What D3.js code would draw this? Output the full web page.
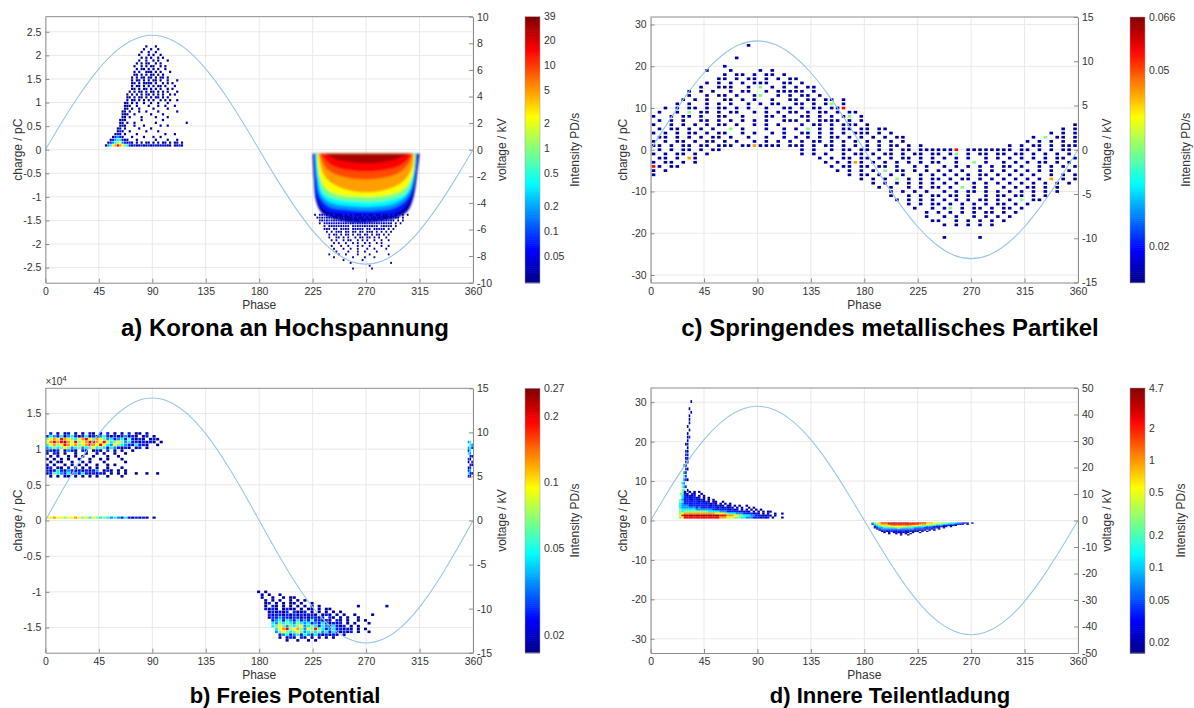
<!DOCTYPE html>
<html>
<head>
<meta charset="utf-8">
<script src="https://cdn.jsdelivr.net/npm/d3@7/dist/d3.min.js"></script>
<style>
body{margin:0;background:#fff;}
svg{display:block;font-family:"Liberation Sans",Arial,sans-serif;}
</style>
</head>
<body>
<svg id="chart" width="1194" height="708"></svg>
<script>
// ---- values ----
var phaseTicks=[0,45,90,135,180,225,270,315,360];
var sinePhase=[0,15,30,45,60,75,90,105,120,135,150,165,180,195,210,225,240,255,270,285,300,315,330,345,360];
var voltA=[0,2.23,4.3,6.08,7.45,8.31,8.6,8.31,7.45,6.08,4.3,2.23,0,-2.23,-4.3,-6.08,-7.45,-8.31,-8.6,-8.31,-7.45,-6.08,-4.3,-2.23,0];
var voltC=[0,3.18,6.15,8.7,10.65,11.88,12.3,11.88,10.65,8.7,6.15,3.18,0,-3.18,-6.15,-8.7,-10.65,-11.88,-12.3,-11.88,-10.65,-8.7,-6.15,-3.18,0];
var voltB=[0,3.6,6.95,9.83,12.04,13.43,13.9,13.43,12.04,9.83,6.95,3.6,0,-3.6,-6.95,-9.83,-12.04,-13.43,-13.9,-13.43,-12.04,-9.83,-6.95,-3.6,0];
var voltD=[0,11.16,21.55,30.48,37.33,41.63,43.1,41.63,37.33,30.48,21.55,11.16,0,-11.16,-21.55,-30.48,-37.33,-41.63,-43.1,-41.63,-37.33,-30.48,-21.55,-11.16,0];

var qDomA=[-2.82,2.82], qTicksA=[-2.5,-2,-1.5,-1,-0.5,0,0.5,1,1.5,2,2.5];
var vDomA=[-10,10], vTicksA=[-10,-8,-6,-4,-2,0,2,4,6,8,10];
var cbDomA=[0.0237,39], cbTicksA=[0.05,0.1,0.2,0.5,1,2,5,10,20,39];

var qDomC=[-31.8,31.8], qTicksC=[-30,-20,-10,0,10,20,30];
var vDomC=[-15,15], vTicksC=[-15,-10,-5,0,5,10,15];
var cbDomC=[0.0166,0.066], cbTicksC=[0.02,0.05,0.066];

// panel b charge in units of 1e4 pC
var qDomB=[-1.853,1.853], qTicksB=[-1.5,-1,-0.5,0,0.5,1,1.5];
var vDomB=[-15,15], vTicksB=[-15,-10,-5,0,5,10,15];
var cbDomB=[0.0167,0.27], cbTicksB=[0.02,0.05,0.1,0.2,0.27];

var qDomD=[-33.6,33.6], qTicksD=[-30,-20,-10,0,10,20,30];
var vDomD=[-50,50], vTicksD=[-50,-40,-30,-20,-10,0,10,20,30,40,50];
var cbDomD=[0.016,4.7], cbTicksD=[0.02,0.05,0.1,0.2,0.5,1,2,4.7];

// intensity classes: position on the colour bar (0 bottom .. 1 top)
var levelPos={o:0.03,b:0.15,l:0.27,c:0.37,g:0.5,y:0.62,n:0.72,e:0.8,r:0.87,d:0.96};

// PRPD histograms: phi0 / dphi (deg), q0 = top edge of first row, dq = row height
var gridAPos={phi0:48,dphi:2,q0:2.22,dq:0.06,rows:[
"..........|........o.|..o.......|.......",
"..........|.......o..|o..o......|.......",
"..........|......o..o|..o.......|.......",
"..........|.....o...o|.o..o.....|.......",
"..........|......o.o.|o..o.o....|.......",
"..........|.....o..o.|.o.o...o..|.......",
"..........|....o.o.oo|..o.o.....|.......",
"..........|...o..o.o.|oo..o.o...|.......",
"..........|....o.oo.o|.o.o..o...|.......",
"..........|...o.o..oo|o.o.o...o.|.......",
"..........|...oo.o.o.|oo.o.o....|.......",
"..........|..o.o.oo.o|o.o.oo.o..|.......",
"..........|..o.oo.o.o|.oo.o..o..|.o.....",
"..........|..oo.o.ooo|o.o..o.o.o|.......",
"..........|..o.oo.o.o|.o.oo.o...|o......",
"..........|..oo.o.oo.|o.o.o..o.o|.......",
"..........|.o.o.oo.o.|oo.o.o.o..|.o.....",
"..........|o.o.o.o.oo|.o.o.o..o.|o......",
"..........|oo.o.oo.o.|o.oo.o.o..|.......",
"..........|o.oo.o.o.o|.o..o.o.o.|.o.....",
".........o|o.o.o..o..|o..o...o..|.......",
".........o|oo..o....o|...o..o...|o......",
".........o|o.o..o....|.o.....o..|.......",
"........oo|.o...o..o.|...o......|.o.....",
"........oo|o..o......|o....o....|.......",
"........oo|.o....o...|..o....o..|.......",
".......ooo|......o...|.....o....|.......",
".......oo.|o..o......|..o.......|.....o.",
".......ooo|...o...o..|....o..o..|.......",
"......oo.o|.....o....|o.........|.......",
"......obo.|.o......o.|...o......|.......",
".....obo.o|....o.....|......o...|o......",
"....oblbo.|..o....o..|.o..o.....|.......",
"...oblccbo|o...o.....|..o....o..|.o.....",
"..oblcgylb|obo.o.o.oo|.o.o.oo.o.|oo.o...",
".olcynrnyg|cbobooboob|ooboobooo.|oobo..."]};

// dense negative corona cloud: lower boundary of each intensity class
var bandsANeg=[
 {lv:"o",pts:[[225,-0.085],[226,-0.6],[228,-1.1],[233,-1.35],[245,-1.48],[262,-1.55],[280,-1.52],[295,-1.45],[305,-1.3],[310,-1.0],[313,-0.5],[315,-0.085]]},
 {lv:"b",pts:[[226,-0.085],[227,-0.6],[229,-1.05],[235,-1.28],[250,-1.38],[265,-1.42],[282,-1.4],[297,-1.32],[305,-1.15],[310,-0.8],[313,-0.085]]},
 {lv:"l",pts:[[227,-0.085],[228,-0.6],[231,-1.0],[238,-1.2],[255,-1.28],[270,-1.3],[288,-1.27],[300,-1.15],[307,-0.95],[311,-0.5],[312.5,-0.085]]},
 {lv:"c",pts:[[227.5,-0.085],[229,-0.6],[232,-0.95],[240,-1.12],[258,-1.2],[275,-1.21],[292,-1.15],[302,-1.02],[308,-0.8],[311,-0.4],[312,-0.085]]},
 {lv:"g",pts:[[228,-0.085],[230,-0.6],[234,-0.9],[243,-1.03],[262,-1.1],[280,-1.1],[295,-1.02],[304,-0.9],[309,-0.6],[311.5,-0.085]]},
 {lv:"y",pts:[[229,-0.085],[231,-0.55],[236,-0.82],[246,-0.95],[265,-1.0],[283,-0.98],[297,-0.9],[305,-0.75],[310,-0.45],[311,-0.085]]},
 {lv:"n",pts:[[230,-0.085],[233,-0.45],[238,-0.65],[248,-0.8],[265,-0.9],[283,-0.87],[296,-0.76],[304,-0.6],[309,-0.35],[310,-0.085]]},
 {lv:"e",pts:[[231,-0.085],[235,-0.35],[242,-0.5],[255,-0.6],[270,-0.63],[288,-0.58],[300,-0.45],[307,-0.25],[309,-0.085]]},
 {lv:"r",pts:[[232,-0.085],[237,-0.25],[245,-0.38],[260,-0.45],[275,-0.46],[292,-0.4],[302,-0.28],[307,-0.15],[308,-0.085]]},
 {lv:"d",pts:[[236,-0.085],[245,-0.2],[260,-0.27],[278,-0.28],[293,-0.22],[303,-0.12],[306,-0.085]]}
];
var gridANeg={phi0:226,dphi:2,q0:-1.35,dq:0.06,rows:[
"o.oobobobo|oobobobooo|bobooboobo|obobob.o.o..",
".obobooboo|bobooobobo|oboboobobo|oboboo.o....",
"..oobobooo|boboooboob|ooboboobob|oboo.o.o....",
"..o.oboobo|obooboobob|oobobooboo|boo.o.o.....",
"....o.oobo|boobo.obob|ooboobo.bo|obo.o.......",
"....ooo.oo|.oboo.ooob|o.oo.ooboo|.o.o........",
".....o.o.o|oo.oo.oo.o|o.ooo.o.o.|o.o.........",
"......o.oo|.o.oo.o.oo|.oo.o.oo.o|.o..........",
"......o..o|o.o.o..o.o|o.oo.o.o..|o...........",
".......o.o|..o.oo..o.|o.o..o..o.|.o..........",
"........o.|o..o..o.o.|.o.o..o.o.|............",
".......o..|.o..o...o.|o..o....o.|.o..........",
"........o.|..o..o..o.|..o..o....|o...........",
".........o|....o...o.|.o....o...|............",
"......o...|o..o....o.|...o......|.o..........",
"........o.|......o...|.o...o....|............",
"..........|..o.......|o.........|............",
"..........|.....o....|..........|..o.........",
"..........|..........|...o......|............",
"..........|......o...|....o.....|............"]};

var gridC={phi0:0,dphi:5,q0:26.5,dq:1,rows:[
"............|............|............|............|............|............",
"............|....o.......|............|............|............|............",
"............|............|............|............|............|............",
"............|............|............|............|............|............",
"............|..o.........|............|............|............|............",
"............|............|............|............|............|............",
"............|o...........|............|............|............|............",
".........o..|.o....o.o...|............|............|............|............",
"............|o.oo.o.oo.o.|............|............|............|............",
"...........o|o.o.oo.o.o.o|o...........|............|............|............",
".........o.o|.o.o.ooo..oo|.o..........|............|............|............",
"........o..o|oo..o.g.o.o.|o.oo........|............|............|............",
"......o.o.o.|.o.oo..o.ooo|oo.o........|............|............|............",
"......o..o.o|o.o..og..o.o|.oo.o.......|............|............|............",
".....o.o.o..|oo.o.o..o..o|o.oo.oo.o...|............|............|............",
"....o.o..o.o|.o..o.o.oo..|oo.o.og.o...|............|............|............",
"..o.o.oo.o.o|o.o.o..o..oo|.o.oo.oor...|............|............|............",
".o..o.g.oo.o|.oo..o.o.o.o|o.o.oo.o.oo.|............|............|............",
"o..o.oo.o..o|o..o...oo.o.|.oo.o.o.og.o|............|............|............",
".o.o.o..oo.o|.o.o.o.o..oo|o.o.oooo.o.o|............|............|............",
"o..o.o.o.o.o|o.o..o.o.o..|.o.oo.o.ooo.|o...........|............|...........o",
".o.oo.o.o.o.|.g.o...o..o.|o.g.o.o.oo.o|o.oo........|............|.........o.o",
"o.o.o.oo.o.o|o..o.o..o.o.|.oo.o.o.o.oo|o.o.o.......|............|.......o.o.o",
".oo.o.o.o.oo|.o..o..o..o.|o.o.o.oo.o.o|.o.o.oo.....|............|....o.g.oo.o",
"o.o.oo.o.oo.|o.o..o.o.o.o|.o.oo.o.o.o.|o.o.o.o.....|............|...o.o.o.o.o",
"oo.o.oo.oo.o|oo.oonoooo.o|oo.o.oo.o.o.|o.o.oo.o.o..|............|o.o.oo.o.ooo",
".o.o.oo.o.oo|............|.o.o..o.oo.o|o.o.o.oo.ooo|ooor.ooooooo|o.oo.o.o.oo.",
"o.o.oo.o.o..|............|.o.o.o..o.oo|.o.oo.o.oo.o|o.og.o.oo.oo|.oo.o.o.o.o.",
".oo.o.no....|............|....o.o.oo.o|o.o.o.oo.o.o|.o.o.o..o.o.|o.o.o.o.oo.o",
"o.oo.o.o....|............|.....o.o.ono|.o.o.o.o.o.o|o..o..g.o..o|.o.o.oo.o.o.",
"ro.oo.......|............|......o.oo.o|o.oo.o..o.o.|.o.o.o.o.o.o|o.o..o.o.o.o",
"o.o.........|............|.......o.o.o|.o.g.oo.o.o.|o.o.o..o.o.o|.o.o.o.o..o.",
"o...........|............|.........o.o|o.o.o.o..o.o|.o.o.o.oo.o.|o.o.o..o.o.o",
"............|............|...........o|.o.o.g.o.o.o|o.o.oo.o.o.o|.o.o.o.n.o.o",
"............|............|............|.o.o.o.o.o.o|.o.o..o.o.o.|o.o.o.o.o.o.",
"............|............|............|..o.o..o.o.o|o.o.g.o.o..o|.o.oo.o.o...",
"............|............|............|....o.o.o.o.|.o.o.oo.o.o.|o.o.o.o.o...",
"............|............|............|....o..o.o.o|o.oo.o..o.oo|.oo.o.o.....",
"............|............|............|.....o.o.o.o|.o.o.o.oo.o.|o.g.oo......",
"............|............|............|.......o.o.o|o.o.o.o.o.oo|.o.o........",
"............|............|............|........o..o|.og.o.oo.o.o|o.o.........",
"............|............|............|..........o.|o.o.o.o.oo.o|.o..........",
"............|............|............|..........o.|.o.o..o.o.o.|o...........",
"............|............|............|...........o|o..o.o.o.o.o|............",
"............|............|............|............|.o.o.o.o.o..|............",
"............|............|............|............|............|............",
"............|............|............|............|............|............",
"............|............|............|............|.o.....o....|............"]};

var gridBPos={phi0:0,dphi:3,q0:1.24,dq:0.04,rows:[
".b.o.ob.o.|o.bo.o.b.o|.o.b.oo.o.|...",
"bclbcolcbo|bcobolcbob|oblobo.ob.|o..",
"gynyrnygcy|nrygnyglcb|lcbgbobo.o|bo.",
"ynrnrdnyrg|ynrrnyrycg|yglcbbobob|o.o",
"cyngyrnyng|ynrnyrycly|gclbocbbo.|.o.",
"lcgcgyglcg|lcgycgcbcl|bobo.ob.o.|...",
"obob.olbo.|bo.obo.b.o|.o..o.....|...",
"o.bo.o..o.|.o..o.o..o|..o.......|...",
".o.o..o.o.|o..o...o..|o.........|...",
"o.o.o.o..o|..o..o.o..|.o........|...",
".o.oo..o..|o.o...o...|..o.......|...",
"o.o..o.o.o|.o..o..o.o|..........|...",
"ob.oo.b.o.|o.o.o..o..|.o........|...",
"bobcbolbob|obobl.obo.|o.o.......|...",
"obgclbcblb|cbobobo.o.|o.o..o..o.|.o.",
".o.o.oo.o.|o.o.o..o..|.o........|..."]};
var gridBZero={phi0:0,dphi:3,q0:0.06,dq:0.04,rows:["yynyygyyny|gycygcgclc|lbcbobobo.|o"]};
var gridBEdge={phi0:355.5,dphi:1.5,q0:1.12,dq:0.04,rows:["lc.",".cl","lcb","bc.","cl.",".bo","bo.","o.b",".bo","ob.","bl.","cbo","bo."]};
var gridBNeg={phi0:178,dphi:3,q0:-0.98,dq:0.04,rows:[
"o.o.......|..........|..........|........",
".o.o..o...|..........|..........|........",
".o..o..o.o|o.........|..........|........",
"..o.o.o..o|.o.o......|..........|........",
"..ob.o.o.o|o.o..o....|..........|........",
"..o.bo.o.o|.o.o.o.o..|........o.|......o.",
"..bobo.obo|o.o.oo.o.o|o.........|........",
"...obobob.|boob.o.o.o|.o.o......|........",
"...bobbobo|bobobbo.ob|o.o.o..o..|..o.....",
"...obblbbo|bbobobbob.|bo.o.o..o.|........",
"....blcbcl|bcblbcbbob|o.bo.o..o.|o.......",
"....clgcgc|lgclcblbcb|obob.o.o..|.o......",
"....cgyglg|cgylcgcbcl|bcbob.o.o.|........",
".....cynrg|ynglygrgcb|lcbbobo.o.|o.......",
".....lgygc|gyglcgcglc|bcbobob.o.|.o......",
"......blcb|lcbclbcbob|obo.o.....|........",
"......o.ob|o.bo.o.o.o|.o........|........",
"........o.|.o..o.o...|..........|........"]};

var gridDSpike={phi0:20,dphi:1.5,q0:30.6,dq:0.9,rows:[
".........o..","............","........o...",".........o..","........o...","........o...",
"........o...",".......o....","........o...",".......o....",".......ob...",".......o....",
"......ob....",".......o....","......bo....","......bb....","......ob....","......bo....",
".....lb.....","......bo....",".....lb.....",".....cb.....",".....lbo....","....cl......",
"....glb.....","....gc.o....","...gcb......"]};
var gridDBand={phi0:20,dphi:2,q0:7.5,dq:0.5,rows:[
"....o.o.o.|o.........|..........|..........|........",
"...gbo.bo.|.o........|..........|..........|........",
"...cbobob.|o.o.......|..........|..........|........",
"...cbbobbo|b.o.o.....|..........|..........|........",
"..glbbbobb|obo.o.o...|..........|..........|........",
"..gcbbbbbb|obobo.oo..|o.........|..........|........",
"..clbbbbbb|bbbobobo.o|.o.o......|..........|........",
"..clllbbbb|bbbbbobobo|o.oo.o.o..|o.........|........",
"..cllllllb|lbbbbbbbob|obobo.o.o.|.o.o......|........",
"..gccccccl|llllllbbbb|bbbobob.o.|o.o.o.o...|........",
"..gcgggggg|ggggcccccl|llbbbbbobo|bo.o.o.o.o|o.......",
"..gynnnnnn|nnnnnnnyyy|yggccclllb|bbbobo.o.o|..o..o..",
"..yrdddddd|dddddddddr|rrnnnyyggc|ccllbbboob|o.o.....",
"..gyrrrrrr|rrrrrrrrrn|nnyyygggcc|lllbbbobob|.o...o.."]};
var gridDNeg={phi0:184,dphi:2,q0:-0.5,dq:0.3,rows:[
".lgynrrrdd|dddddddrrr|rrrrnnnyyy|ggggcccllb|bo.o",
".bcgynnnrr|rrrrrrrrrr|rnnnyyyygg|gcclllbbob|.o..",
"..lcgyyyyn|nnnnnnnnyy|yyggggccll|lbbbobo...|....",
"..blcgggyy|yyyyyygggg|cccclllbbb|bob.o.....|....",
"..obllcccc|cgggcccccl|lllbbbbobo|.o........|....",
"...oblllll|llcllllllb|bbbbobob.o|..........|....",
"....obbbbb|bbbbbbbbbo|bobo.o.o..|..........|....",
".....obobb|bobbbobobo|o.o.o.....|..........|....",
"......o.o.|obobobo.o.|.o........|..........|....",
"........o.|.o.o.o.o..|..........|..........|....",
"..........|...o..o...|..........|..........|...."]};

// ---- drawing ----
var svg=d3.select("#chart");
var defs=svg.append("defs");
defs.append("filter").attr("id","soft").attr("x","-5%").attr("y","-5%").attr("width","110%").attr("height","110%")
  .append("feGaussianBlur").attr("stdDeviation",0.9);

var jet=d3.scaleLinear().domain([0,0.125,0.375,0.625,0.875,1])
  .range(["#000084","#0000ff","#00ffff","#ffff00","#ff0000","#800000"])
  .interpolate(d3.interpolateRgb);

var axisGrey="#8c8c8c", textGrey="#333", gridGrey="#e9e9e9", sineColor="#98c7e8";

var panels=[
 {id:"a",x0:45.4,x1:473,y0:16.7,y1:282.7,cbx:525,cbLab:575,tx:285,ty:336,tsize:24,title:"a) Korona an Hochspannung",
  qDom:qDomA,qTicks:qTicksA,vDom:vDomA,vTicks:vTicksA,volt:voltA,cbDom:cbDomA,cbTicks:cbTicksA,
  bands:bandsANeg,grids:[[gridAPos,0.9,0.8],[gridANeg,0.75,0.7]]},
 {id:"c",x0:650.6,x1:1078,y0:17,y1:282.5,cbx:1130,cbLab:1186,tx:890,ty:336,tsize:24,title:"c) Springendes metallisches Partikel",
  qDom:qDomC,qTicks:qTicksC,vDom:vDomC,vTicks:vTicksC,volt:voltC,cbDom:cbDomC,cbTicks:cbTicksC,
  bands:[],grids:[[gridC,0.6,0.65]]},
 {id:"b",x0:45.4,x1:473,y0:388.3,y1:652.7,cbx:525,cbLab:575,tx:285,ty:703,tsize:22,title:"b) Freies Potential",
  qDom:qDomB,qTicks:qTicksB,vDom:vDomB,vTicks:vTicksB,volt:voltB,cbDom:cbDomB,cbTicks:cbTicksB,
  bands:[],grids:[[gridBPos,0.85,0.9],[gridBZero,0.9,0.75],[gridBEdge,0.9,0.9],[gridBNeg,0.85,0.9]],mult:true},
 {id:"d",x0:650.6,x1:1078,y0:388,y1:653,cbx:1130,cbLab:1181,tx:890,ty:703,tsize:22,title:"d) Innere Teilentladung",
  qDom:qDomD,qTicks:qTicksD,vDom:vDomD,vTicks:vTicksD,volt:voltD,cbDom:cbDomD,cbTicks:cbTicksD,
  bands:[],grids:[[gridDSpike,0.9,0.8],[gridDBand,1.05,1.05],[gridDNeg,1.05,1.05]]}
];

function cells(grid){
  var out=[];
  grid.rows.forEach(function(row,r){
    var s=row.replace(/\|/g,"");
    for(var c=0;c<s.length;c++){
      var ch=s.charAt(c);
      if(levelPos[ch]===undefined) continue;
      out.push({phi:grid.phi0+c*grid.dphi,q:grid.q0-r*grid.dq,lv:ch});
    }
  });
  return out;
}

function drawGrid(g,x,y,grid,fx,fy){
  var w=Math.abs(x(grid.dphi)-x(0)), h=Math.abs(y(0)-y(grid.dq));
  g.append("g").selectAll("rect").data(cells(grid)).enter().append("rect")
    .attr("x",function(d){return x(d.phi+grid.dphi/2)-w*fx/2;})
    .attr("y",function(d){return y(d.q-grid.dq/2)-h*fy/2;})
    .attr("width",w*fx).attr("height",h*fy)
    .attr("fill",function(d){return jet(levelPos[d.lv]);});
}

function fmt(d){return String(d);}

panels.forEach(function(p){
  var g=svg.append("g").attr("class","panel-"+p.id);
  var x=d3.scaleLinear().domain([0,360]).range([p.x0,p.x1]);
  var y=d3.scaleLinear().domain(p.qDom).range([p.y1,p.y0]);
  var yv=d3.scaleLinear().domain(p.vDom).range([p.y1,p.y0]);

  // grid lines
  g.append("g").selectAll("line").data(phaseTicks).enter().append("line")
    .attr("x1",function(d){return x(d);}).attr("x2",function(d){return x(d);})
    .attr("y1",p.y0).attr("y2",p.y1).attr("stroke",gridGrey).attr("stroke-width",1);
  g.append("g").selectAll("line").data(p.qTicks).enter().append("line")
    .attr("y1",function(d){return y(d);}).attr("y2",function(d){return y(d);})
    .attr("x1",p.x0).attr("x2",p.x1).attr("stroke",gridGrey).attr("stroke-width",1);

  // clip
  defs.append("clipPath").attr("id","clip-"+p.id).append("rect")
    .attr("x",p.x0).attr("y",p.y0).attr("width",p.x1-p.x0).attr("height",p.y1-p.y0);
  var inner=g.append("g").attr("clip-path","url(#clip-"+p.id+")");

  // smooth dense regions
  if(p.bands.length){
    var bl=d3.line().x(function(d){return x(d[0]);}).y(function(d){return y(d[1]);}).curve(d3.curveCatmullRom);
    var bg=inner.append("g").attr("filter","url(#soft)");
    bg.selectAll("path").data(p.bands).enter().append("path")
      .attr("d",function(d){return bl(d.pts)+"Z";})
      .attr("fill",function(d){return jet(levelPos[d.lv]);});
  }
  p.grids.forEach(function(gr){drawGrid(inner,x,y,gr[0],gr[1],gr[2]);});

  // applied voltage
  var vl=d3.line().x(function(d){return x(d[0]);}).y(function(d){return yv(d[1]);}).curve(d3.curveNatural);
  inner.append("path").attr("d",vl(d3.zip(sinePhase,p.volt)))
    .attr("fill","none").attr("stroke",sineColor).attr("stroke-width",1.1);

  // axes
  var ax=g.append("g").attr("transform","translate(0,"+p.y1+")")
    .call(d3.axisBottom(x).tickValues(phaseTicks).tickFormat(fmt).tickSizeInner(-4).tickSizeOuter(0).tickPadding(5));
  var ayl=g.append("g").attr("transform","translate("+p.x0+",0)")
    .call(d3.axisLeft(y).tickValues(p.qTicks).tickFormat(fmt).tickSizeInner(-4).tickSizeOuter(0).tickPadding(4));
  var ayr=g.append("g").attr("transform","translate("+p.x1+",0)")
    .call(d3.axisRight(yv).tickValues(p.vTicks).tickFormat(fmt).tickSizeInner(-4).tickSizeOuter(0).tickPadding(4));
  [ax,ayl,ayr].forEach(function(a){
    a.select(".domain").attr("stroke",axisGrey);
    a.selectAll(".tick line").attr("stroke",axisGrey);
    a.selectAll(".tick text").attr("fill",textGrey).style("font-size","10.5px")
      .style("font-family","'Liberation Sans',Arial,sans-serif");
  });
  g.append("line").attr("x1",p.x0).attr("x2",p.x1).attr("y1",p.y0).attr("y2",p.y0)
    .attr("stroke",axisGrey);

  if(p.mult){
    var m=g.append("text").attr("x",p.x0).attr("y",p.y0-3).attr("fill",textGrey).style("font-size","10px");
    m.append("tspan").text("\u00d710");
    m.append("tspan").attr("dy",-4).style("font-size","8px").text("4");
  }

  // axis labels
  g.append("text").attr("x",(p.x0+p.x1)/2).attr("y",p.y1+26).attr("text-anchor","middle")
    .attr("fill",textGrey).style("font-size","12px").text("Phase");
  g.append("text").attr("transform","translate("+(p.x0-28)+","+((p.y0+p.y1)/2)+") rotate(-90)")
    .attr("text-anchor","middle").attr("dy","0.35em").attr("fill",textGrey).style("font-size","12px").text("charge / pC");
  g.append("text").attr("transform","translate("+(p.x1+29)+","+((p.y0+p.y1)/2)+") rotate(-90)")
    .attr("text-anchor","middle").attr("dy","0.35em").attr("fill",textGrey).style("font-size","12px").text("voltage / kV");

  // colour bar
  var cb=d3.scaleLog().domain(p.cbDom).range([p.y1,p.y0]);
  var n=128, hh=(p.y1-p.y0)/n;
  g.append("g").selectAll("rect").data(d3.range(n)).enter().append("rect")
    .attr("x",p.cbx).attr("width",15)
    .attr("y",function(i){return p.y1-(i+1)*hh;}).attr("height",hh+0.6)
    .attr("fill",function(i){return jet((i+0.5)/n);});
  g.append("rect").attr("x",p.cbx).attr("y",p.y0).attr("width",15).attr("height",p.y1-p.y0)
    .attr("fill","none").attr("stroke","#a0a0a0").attr("stroke-width",0.5);
  g.append("g").selectAll("text").data(p.cbTicks).enter().append("text")
    .attr("x",p.cbx+19).attr("y",function(d){return cb(d);}).attr("dy","0.35em")
    .attr("fill",textGrey).style("font-size","10.5px").text(fmt);
  g.append("text").attr("transform","translate("+p.cbLab+","+((p.y0+p.y1)/2)+") rotate(-90)")
    .attr("text-anchor","middle").attr("dy","0.35em").attr("fill",textGrey).style("font-size","12px").text("Intensity PD/s");

  // subplot title
  g.append("text").attr("x",p.tx).attr("y",p.ty).attr("text-anchor","middle")
    .attr("fill","#000").style("font-size",p.tsize+"px").style("font-weight","bold").text(p.title);
});
</script>
</body>
</html>
